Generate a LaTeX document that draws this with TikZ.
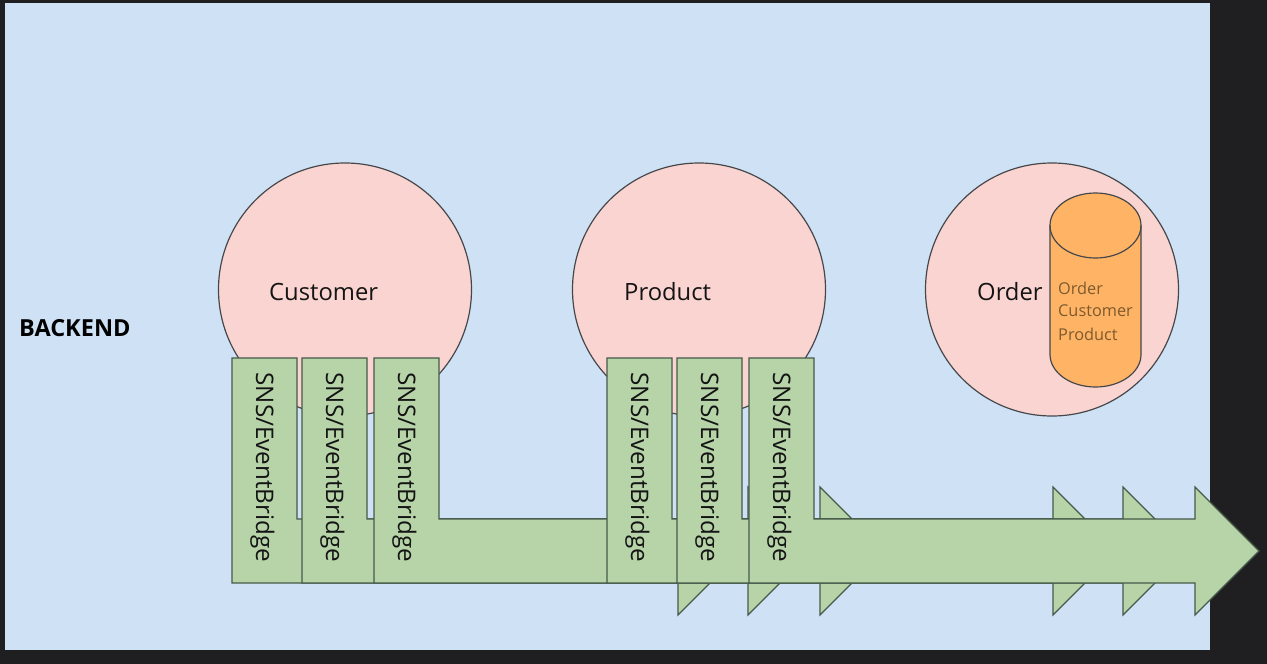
\documentclass[tikz,border=0pt]{standalone}
\usepackage{fontspec}
\setmainfont{Open Sans}
\definecolor{darkbg}{HTML}{1F1E20}
\definecolor{panel}{HTML}{CFE2F5}
\definecolor{pinkf}{HTML}{FAD4D1}
\definecolor{greenf}{HTML}{B6D4A8}
\definecolor{greens}{HTML}{46594A}
\definecolor{orangef}{HTML}{FFB465}
\definecolor{lines}{HTML}{45474A}
\definecolor{orangetext}{HTML}{7D5A2E}
\tikzset{
  svc/.style={circle,draw=lines,fill=pinkf,line width=1.2pt,minimum size=253pt,inner sep=0pt},
  lab/.style={font=\fontsize{23.8}{27}\selectfont,text=black!92,inner sep=0pt},
  snslab/.style={font=\fontsize{24.2}{28}\selectfont,text=black!92,rotate=-90,inner sep=0pt},
  arrowshape/.style={draw=greens,fill=greenf,line width=1.2pt,line join=miter},
  cyltext/.style={anchor=west,inner sep=0pt,text=orangetext,font=\fontsize{16.3}{20}\selectfont},
}
\newcommand{\snsarrow}[2]{%
  \path[arrowshape] (#1,358) -- ++(65,0) -- (#1+65,519) -- (#1+446,519) -- (#1+446,487)
    -- (#1+510,551) -- (#1+446,615) -- (#1+446,583) -- (#1,583) -- cycle;
  \node[snslab] (#2) at (#1+30.5,467.5) {SNS/EventBridge};
}
\begin{document}
\begin{tikzpicture}[x=1pt,y=-1pt]
\useasboundingbox (0,0) rectangle (1267,664);
\fill[darkbg] (0,0) rectangle (1267,664);
\fill[panel] (5,3) rectangle (1210,650);
\node[lab,font=\fontsize{23.5}{27}\selectfont\bfseries,text=black,anchor=west] (backend) at (19,328) {BACKEND};
\node[svc] (customer) at (345,289.5) {};
\node[svc] (product) at (699,289.5) {};
\node[svc] (order) at (1052,289.5) {};
\node[lab,anchor=west] (customerlab) at (269,291.5) {Customer};
\node[lab,anchor=west] (productlab) at (624,291.5) {Product};
\node[lab,anchor=west] (orderlab) at (977,291.5) {Order};
\path[draw=lines,fill=orangef,line width=1.2pt] (1050,225.5) arc[start angle=180,end angle=360,x radius=45.5,y radius=32.5]
  -- (1141,354.5) arc[start angle=0,end angle=180,x radius=45.5,y radius=32.5] -- cycle;
\draw[lines,line width=1.2pt] (1050,225.5) arc[start angle=180,end angle=0,x radius=45.5,y radius=32.5];
\node[cyltext] (t1) at (1058,288) {Order};
\node[cyltext] (t2) at (1058,311) {Customer};
\node[cyltext] (t3) at (1058,334) {Product};
\snsarrow{232}{a1}
\snsarrow{302}{a2}
\snsarrow{374}{a3}
\snsarrow{607}{a4}
\snsarrow{677}{a5}
\snsarrow{749}{a6}
\end{tikzpicture}
\end{document}
